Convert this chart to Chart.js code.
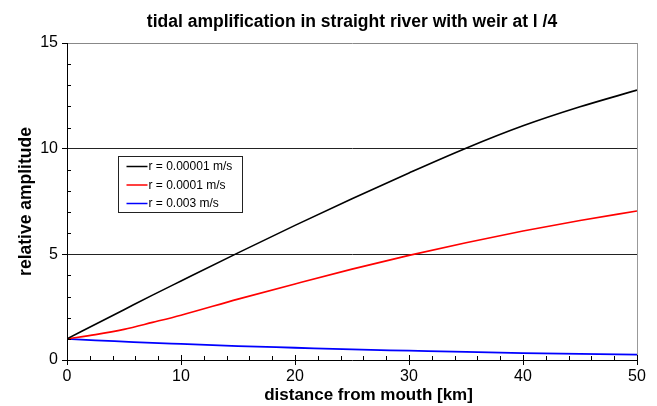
<!DOCTYPE html>
<html>
<head>
<meta charset="utf-8">
<script src="https://cdn.jsdelivr.net/npm/chart.js@4"></script>
<style>
  body { margin: 0; background: #fff; }
  #wrap { width: 657px; height: 406px; }
</style>
</head>
<body>
<div id="wrap"><canvas id="myChart"></canvas></div>
<script>
const ctx = document.getElementById('myChart');

// distance from mouth [km]
const distKm = [0, 2.5, 5, 7.5, 10, 15, 20, 25, 30, 35, 40, 45, 50];
// relative amplitude
const ampSlow = [1.0, 1.69, 2.38, 3.07, 3.74, 5.07, 6.37, 7.63, 8.85, 10.02, 11.08, 11.98, 12.77];
const ampMid  = [1.0, 1.2, 1.45, 1.78, 2.12, 2.88, 3.6, 4.3, 4.95, 5.55, 6.1, 6.6, 7.05];
const ampFast = [1.0, 0.93, 0.87, 0.81, 0.76, 0.66, 0.58, 0.5, 0.44, 0.38, 0.33, 0.29, 0.25];
const seriesLabels = ['r = 0.00001 m/s', 'r = 0.0001 m/s', 'r = 0.003 m/s'];
const seriesColors = ['#000000', '#ff0000', '#0000ff'];

const xTicks = [0, 10, 20, 30, 40, 50];
const yTicks = [0, 5, 10, 15];

Chart.defaults.font.family = "'Liberation Sans', Arial, Helvetica, sans-serif";
Chart.defaults.color = '#000';

function toPoints(ys) {
    return distKm.map((x, i) => ({ x: x, y: ys[i] }));
}

// box legend inside the plot, plus the small inward tick marks
const extras = {
    id: 'extras',
    afterDraw(chart) {
        const c = chart.ctx;
        const xs = chart.scales.x, ys = chart.scales.y;
        c.save();
        c.strokeStyle = '#000';
        c.lineWidth = 1;
        c.beginPath();
        for (let v = 0; v <= 50; v += 2) {
            const px = Math.round(xs.getPixelForValue(v)) + 0.5;
            const len = v % 10 === 0 ? 5 : 4;
            c.moveTo(px, ys.bottom);
            c.lineTo(px, ys.bottom - len);
        }
        for (let v = 1; v < 15; v++) {
            if (v % 5 === 0) continue;
            const py = Math.round(ys.getPixelForValue(v)) + 0.5;
            c.moveTo(xs.left, py);
            c.lineTo(xs.left + 4, py);
        }
        c.stroke();

        // legend box
        const bx = 118.5, by = 156.5, bw = 124, bh = 56;
        c.fillStyle = '#fff';
        c.fillRect(bx, by, bw, bh);
        c.strokeStyle = '#222';
        c.strokeRect(bx, by, bw, bh);
        c.font = "12px 'Liberation Sans', Arial, sans-serif";
        c.textBaseline = 'middle';
        chart.data.datasets.forEach((ds, i) => {
            const ry = by + 10 + i * 18.5;
            c.strokeStyle = ds.borderColor;
            c.lineWidth = 1.5;
            c.beginPath();
            c.moveTo(bx + 8, ry);
            c.lineTo(bx + 29, ry);
            c.stroke();
            c.fillStyle = '#000';
            c.fillText(ds.label, bx + 30, ry + 0.5);
        });
        c.restore();
    }
};

new Chart(ctx, {
    type: 'line',
    data: {
        datasets: [
            { label: seriesLabels[0], data: toPoints(ampSlow), borderColor: seriesColors[0], borderWidth: 1.6 },
            { label: seriesLabels[1], data: toPoints(ampMid), borderColor: seriesColors[1], borderWidth: 1.6 },
            { label: seriesLabels[2], data: toPoints(ampFast), borderColor: seriesColors[2], borderWidth: 1.8 }
        ].map(d => Object.assign(d, { fill: false, pointRadius: 0, cubicInterpolationMode: 'monotone' }))
    },
    options: {
        responsive: true,
        maintainAspectRatio: false,
        animation: false,
        layout: { padding: { left: 0, right: 20, top: 0, bottom: 0 } },
        plugins: {
            legend: { display: false },
            tooltip: { enabled: false },
            title: {
                display: true,
                fullSize: false,
                text: 'tidal amplification in straight river with weir at l /4',
                color: '#000',
                font: { size: 17.5, weight: 'bold' },
                padding: { top: 12, bottom: 10 }
            }
        },
        scales: {
            x: {
                type: 'linear',
                min: 0,
                max: 50,
                afterBuildTicks: s => { s.ticks = xTicks.map(v => ({ value: v })); },
                afterFit: s => { s.height = 46; },
                ticks: { font: { size: 16 }, color: '#000', padding: 2, maxRotation: 0 },
                grid: {
                    color: c => (c.tick && c.tick.value === 50) ? '#999' : 'rgba(0,0,0,0)',
                    tickColor: '#000',
                    tickLength: 5
                },
                border: { color: '#000', width: 1 },
                title: {
                    display: true,
                    // leading spaces: the original title sits a bit right of centre
                    text: '       distance from mouth [km]',
                    color: '#000',
                    font: { size: 17, weight: 'bold' },
                    padding: { top: 0, bottom: 0 }
                }
            },
            y: {
                min: 0,
                max: 15,
                afterBuildTicks: s => { s.ticks = yTicks.map(v => ({ value: v })); },
                afterFit: s => { s.width = 67; },
                ticks: { font: { size: 16 }, color: '#000', padding: 4 },
                grid: {
                    color: c => {
                        const v = c.tick ? c.tick.value : 0;
                        if (v === 15) return '#888';
                        if (v === 0) return 'rgba(0,0,0,0)';
                        return '#222';
                    },
                    tickColor: '#000',
                    tickLength: 5
                },
                border: { color: '#000', width: 1 },
                title: {
                    display: true,
                    text: 'relative amplitude',
                    color: '#000',
                    font: { size: 17.5, weight: 'bold' },
                    padding: { top: 16, bottom: 0 }
                }
            }
        }
    },
    plugins: [extras]
});
</script>
</body>
</html>
